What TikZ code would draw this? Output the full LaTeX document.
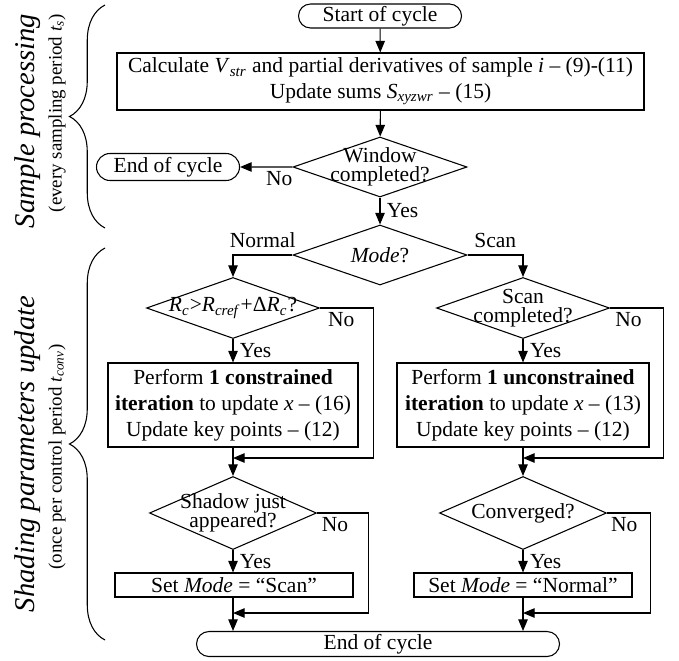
\documentclass[tikz,border=0pt]{standalone}
\usepackage{fontspec}
\setmainfont{Liberation Serif}
\usetikzlibrary{shapes.geometric,shapes.misc,arrows.meta,decorations.pathreplacing}
\newcommand{\PX}{0.465pt}
\newcommand{\sbs}[1]{\textsubscript{\textit{#1}}}

\begin{document}
\begin{tikzpicture}[x=\PX, y=-\PX, line width=0.5pt,
  arr/.style={-{Triangle[length=5.4pt,width=4.4pt]}},
  term/.style={draw, rounded rectangle, inner sep=0pt},
  proc/.style={draw, rectangle, inner sep=0pt, align=center},
  decision/.style={draw, diamond, inner sep=0pt},
  dtext/.style={align=center, inner sep=0pt},
  yes/.style={right, inner sep=3pt},
  no/.style={below, inner sep=2pt},
  bigtxt/.style={rotate=90, font=\fontsize{13.3}{16}\selectfont\itshape},
  smalltxt/.style={rotate=90, font=\fontsize{8.8}{10}\selectfont}]

  \useasboundingbox (0,0) rectangle (679,660);

  %% side labels
  \node[bigtxt] (lblA) at (28,121) {Sample processing};
  \node[smalltxt] (subA) at (57,113) {(every sampling period \textit{t}\sbs{s})};
  \node[bigtxt] (lblB) at (28,454) {Shading parameters update};
  \node[smalltxt] (subB) at (57,457) {(once per control period \textit{t}\sbs{conv})};

  \draw[decorate, decoration={brace, amplitude=16.5pt}] (105,228) -- (105,5);
  \draw[decorate, decoration={brace, amplitude=16.5pt}] (105,640) -- (105,248);

  %% sample processing
  \node[term, minimum width=163*\PX, minimum height=24*\PX] (start) at (380,16) {Start of cycle};
  \node[proc, minimum width=527*\PX, minimum height=57*\PX] (calc) at (380.5,81.5)
    {Calculate \textit{V}\sbs{str} and partial derivatives of sample \textit{i} -- (9)-(11)\\
     Update sums \textit{S}\sbs{xyzwr} -- (15)};
  \node[decision, minimum width=174*\PX, minimum height=60*\PX] (win) at (380,167) {};
  \node[dtext] at (win) {Window\\[-3pt]completed?};
  \node[term, minimum width=143*\PX, minimum height=27*\PX] (endA) at (168,167) {End of cycle};

  %% shading parameters update
  \node[decision, minimum width=174*\PX, minimum height=60*\PX] (mode) at (380,255) {};
  \node[dtext] at (mode) {\textit{Mode}?};

  \node[decision, minimum width=173*\PX, minimum height=61*\PX] (rc) at (233,308) {};
  \node[dtext] at (rc) {\textit{R}\sbs{c}>\textit{R}\sbs{cref}+Δ\textit{R}\sbs{c}?};
  \node[decision, minimum width=173*\PX, minimum height=61*\PX] (scan) at (523,308) {};
  \node[dtext] at (scan) {Scan\\[-3pt]completed?};

  \node[proc, minimum width=250*\PX, minimum height=84*\PX] (boxL) at (233,405)
    {Perform \textbf{1 constrained}\\
     \textbf{iteration} to update \textit{x} -- (16)\\
     Update key points -- (12)};
  \node[proc, minimum width=252*\PX, minimum height=84*\PX] (boxR) at (523,405)
    {Perform \textbf{1 unconstrained}\\
     \textbf{iteration} to update \textit{x} -- (13)\\
     Update key points -- (12)};

  \node[decision, minimum width=167*\PX, minimum height=73*\PX] (shadow) at (233,513) {};
  \node[dtext] at (shadow) {Shadow just\\[-3pt]appeared?};
  \node[decision, minimum width=167*\PX, minimum height=73*\PX] (conv) at (523,513) {};
  \node[dtext] at (conv) {Converged?};

  \node[proc, minimum width=238*\PX, minimum height=24*\PX] (setS) at (234,585) {Set \textit{Mode} = “Scan”};
  \node[proc, minimum width=218*\PX, minimum height=24*\PX] (setN) at (523,585) {Set \textit{Mode} = “Normal”};

  \node[term, minimum width=363*\PX, minimum height=25*\PX] (endB) at (378,644) {End of cycle};

  \coordinate (mL) at (233,458);
  \coordinate (mR) at (523,458);
  \coordinate (mL2) at (233,613);
  \coordinate (mR2) at (523,613);

  %% connectors
  \draw[arr] (start) -- (calc);
  \draw[arr] (calc) -- (win);
  \draw[arr] (win) -- node[no, pos=0.25]{No} (endA);
  \draw[arr] (win) -- node[yes]{Yes} (mode);
  \draw[arr] (mode.west) -| node[pos=0.25, above]{Normal} (rc.north);
  \draw[arr] (mode.east) -| node[pos=0.25, above]{Scan} (scan.north);

  \draw[arr] (rc) -- node[yes]{Yes} (boxL);
  \draw[arr] (scan) -- node[yes]{Yes} (boxR);
  \draw[arr] (rc.east) -- node[no, pos=0.4]{No} ++(53,0) |- (mL);
  \draw[arr] (scan.east) -- node[no, pos=0.35]{No} ++(53,0) |- (mR);

  \draw[arr] (boxL) -- (shadow);
  \draw[arr] (boxR) -- (conv);
  \draw[arr] (shadow) -- node[yes]{Yes} (setS.north -| shadow);
  \draw[arr] (conv) -- node[yes]{Yes} (setN);
  \draw[arr] (shadow.east) -- node[no, pos=0.35]{No} ++(51,0) |- (mL2);
  \draw[arr] (conv.east) -- node[no, pos=0.4]{No} ++(43,0) |- (mR2);

  \draw[arr] (mL2 |- setS.south) -- (mL2 |- endB.north);
  \draw[arr] (setN) -- (setN |- endB.north);

\end{tikzpicture}
\end{document}
